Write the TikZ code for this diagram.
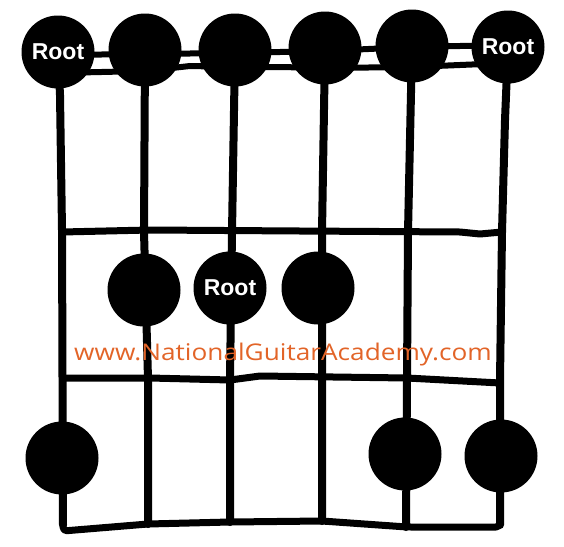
\documentclass[tikz,border=0pt]{standalone}
\usepackage{fontspec}
\setmainfont{Liberation Sans}
\newfontfamily\wmfont{Open Sans}
\definecolor{wmorange}{RGB}{226,100,40}
\begin{document}
\begin{tikzpicture}[x=1pt,y=-1pt,
  dot/.style={circle,fill=black,minimum size=73pt,inner sep=0pt},
  rootdot/.style={dot,text=white,font=\fontsize{23}{23}\selectfont\bfseries},
  stringline/.style={line width=8pt,line cap=round,line join=round},
  fretline/.style={line width=7pt,line cap=round,line join=round},
  nutline/.style={line width=6pt,line cap=butt}]
\useasboundingbox (0,0) rectangle (564,546);
% coordinates
\coordinate (t1) at (58,52); \coordinate (t2) at (145,50); \coordinate (t3) at (235,50);
\coordinate (t4) at (325,48); \coordinate (t5) at (412,46); \coordinate (t6) at (508,47);
\coordinate (m1) at (144,290); \coordinate (m2) at (230,288); \coordinate (m3) at (318,288);
\coordinate (b1) at (62,458); \coordinate (b2) at (405,454); \coordinate (b3) at (501,456);
% nut
\draw[nutline] (58,55) -- (145,54) -- (235,53) -- (325,51) -- (412,47) -- (508,45);
\draw[nutline] (58,73) -- (145,71) -- (190,66) -- (235,67) -- (280,67) -- (325,68) -- (412,67) -- (508,63);
% strings
\draw[stringline] (t1) -- (60,95) -- (62,230) -- (63,525);
\draw[stringline] (t2) -- (144,232) -- (148,379) -- (148,524);
\draw[stringline] (t3) -- (232,232) -- (230,379) -- (230,522);
\draw[stringline] (t4) -- (322,232) -- (322,379) -- (322,521);
\draw[stringline] (t5) -- (408,232) -- (407,379) -- (406,527);
\draw[stringline] (t6) -- (505,120) -- (502,232) -- (500,380) -- (500,525);
% frets
\draw[fretline] (62,232) -- (150,230) -- (300,231) -- (460,232) -- (480,234) -- (502,232);
\draw[fretline] (63,378) -- (150,378) -- (230,380) -- (260,376) -- (407,378) -- (500,383);
\draw[fretline,rounded corners=4pt] (63,515) -- (63,531) -- (148,524) -- (230,522) -- (322,521) -- (407,527) -- (500,527) -- (500,515);
% dots
\node[rootdot] (n1) at (t1) {Root};
\node[dot] (n2) at (t2) {};
\node[dot] (n3) at (t3) {};
\node[dot] (n4) at (t4) {};
\node[dot] (n5) at (t5) {};
\node[rootdot] (n6) at (t6) {Root};
\node[dot] (n7) at (m1) {};
\node[rootdot] (n8) at (m2) {Root};
\node[dot] (n9) at (m3) {};
\node[dot] (n10) at (b1) {};
\node[dot] (n11) at (b2) {};
\node[dot] (n12) at (b3) {};
% watermark
\node[text=wmorange,font=\wmfont\fontsize{23}{23}\selectfont,inner sep=0pt,xscale=1.14] (wm) at (283,355) {www.NationalGuitarAcademy.com};
\end{tikzpicture}
\end{document}
